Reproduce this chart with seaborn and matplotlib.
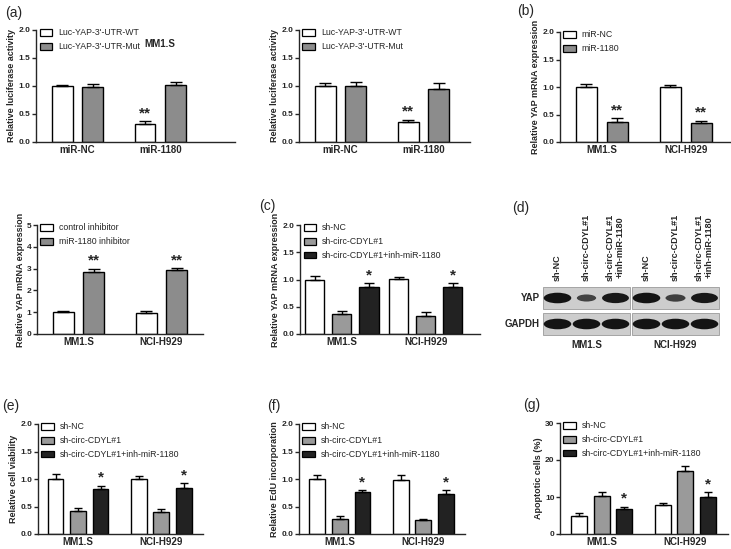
import numpy as np
import pandas as pd
import matplotlib
matplotlib.use("Agg")
import matplotlib.pyplot as plt
import seaborn as sns
from matplotlib.patches import Patch, Rectangle, Ellipse
from matplotlib.container import BarContainer

sns.set_style("ticks")
plt.rcParams['font.family'] = ['Liberation Sans', 'DejaVu Sans']

W, H = 731, 549

# ---------------- data ----------------
mir_groups = ["miR-NC", "miR-1180"]
cell_lines = ["MM1.S", "NCI-H929"]
luc_labels = ["Luc-YAP-3'-UTR-WT", "Luc-YAP-3'-UTR-Mut"]

luc1_wt = [1.00, 0.33]
luc1_wt_err = [0.02, 0.04]
luc1_mut = [0.99, 1.01]
luc1_mut_err = [0.05, 0.07]

luc2_wt = [1.00, 0.35]
luc2_wt_err = [0.06, 0.05]
luc2_mut = [1.00, 0.95]
luc2_mut_err = [0.07, 0.10]

mimic_labels = ["miR-NC", "miR-1180"]
mimic_nc = [1.00, 1.00]
mimic_nc_err = [0.05, 0.03]
mimic_mir = [0.36, 0.34]
mimic_mir_err = [0.07, 0.05]

inh_labels = ["control inhibitor", "miR-1180 inhibitor"]
inh_ctrl = [1.00, 0.97]
inh_ctrl_err = [0.05, 0.07]
inh_mir = [2.85, 2.92]
inh_mir_err = [0.15, 0.12]

sh_labels = ["sh-NC", "sh-circ-CDYL#1", "sh-circ-CDYL#1+inh-miR-1180"]

yap_nc = [1.00, 1.01]
yap_nc_err = [0.07, 0.03]
yap_sh = [0.36, 0.33]
yap_sh_err = [0.06, 0.07]
yap_combo = [0.86, 0.87]
yap_combo_err = [0.07, 0.06]

via_nc = [1.00, 1.00]
via_nc_err = [0.10, 0.05]
via_sh = [0.41, 0.40]
via_sh_err = [0.06, 0.05]
via_combo = [0.81, 0.83]
via_combo_err = [0.07, 0.10]

edu_nc = [1.00, 0.98]
edu_nc_err = [0.08, 0.10]
edu_sh = [0.28, 0.25]
edu_sh_err = [0.04, 0.03]
edu_combo = [0.76, 0.73]
edu_combo_err = [0.04, 0.07]

apo_nc = [4.9, 7.8]
apo_nc_err = [0.8, 0.6]
apo_sh = [10.3, 17.0]
apo_sh_err = [1.1, 1.4]
apo_combo = [6.8, 10.1]
apo_combo_err = [0.6, 1.3]

# western blot band intensity (relative), lanes: sh-NC, sh-circ, sh-circ+inh
blot_lanes = ["sh-NC", "sh-circ-CDYL#1", "sh-circ-CDYL#1\n+inh-miR-1180"]
yap_band = {"MM1.S": [1.0, 0.4, 0.95], "NCI-H929": [1.0, 0.45, 0.95]}
gapdh_band = {"MM1.S": [1.0, 1.0, 1.0], "NCI-H929": [1.0, 1.0, 1.0]}

two_colors = ["white", "#8c8c8c"]
three_colors = ["white", "#9a9a9a", "#222222"]


def add_ax(l, t, r, b):
    return fig.add_axes([l / W, 1 - b / H, (r - l) / W, (b - t) / H])


def bar_panel(ax, cats, labels, vals, errs, colors, width, gap, ylim, yticks,
              ylabel, xlim, stars=None, fmt="{:.1f}", capsize=3.5):
    rows = []
    for lab, v in zip(labels, vals):
        for c, y in zip(cats, v):
            rows.append({"group": c, "cond": lab, "value": y})
    df = pd.DataFrame(rows)
    sns.barplot(data=df, x="group", y="value", hue="cond", hue_order=labels,
                order=cats, palette=colors, width=width, gap=gap,
                errorbar=None, edgecolor="black", linewidth=1.0,
                legend=False, ax=ax, saturation=1)
    bars = [c for c in ax.containers if isinstance(c, BarContainer)]
    for i, cont in enumerate(bars):
        xs = [p.get_x() + p.get_width() / 2 for p in cont.patches]
        ys = vals[i]
        e = errs[i]
        ax.errorbar(xs, ys, yerr=[np.zeros(len(e)), e], fmt="none",
                    ecolor="black", elinewidth=1.0, capsize=capsize,
                    capthick=1.0, zorder=1)
        if stars and stars[i]:
            for x, y, ee in zip(xs, ys, e):
                ax.annotate(stars[i], (x, y + ee), xytext=(0, 0.5),
                            textcoords="offset points", ha="center",
                            va="bottom", fontsize=11, fontweight="bold")
    handles = [Patch(facecolor=c, edgecolor="black", linewidth=0.9)
               for c in colors]
    ax.legend(handles, labels, loc="upper left", bbox_to_anchor=(0.01, 1.03),
              frameon=False, fontsize=6.3, handlelength=1.4, handleheight=0.8,
              handletextpad=0.7, labelspacing=0.55, borderaxespad=0,
              borderpad=0.2)
    ax.set_ylim(*ylim)
    ax.set_yticks(yticks)
    ax.set_yticklabels([fmt.format(t) for t in yticks], fontsize=6,
                       fontweight="bold")
    ax.set_xlim(*xlim)
    ax.set_xticks(range(len(cats)))
    ax.set_xticklabels(cats, fontsize=7, fontweight="bold")
    ax.set_xlabel("")
    ax.set_ylabel(ylabel, fontsize=6.5, fontweight="bold", labelpad=1.5)
    ax.tick_params(axis="y", direction="out", length=3, width=1, pad=1)
    ax.tick_params(axis="x", length=0, pad=2)
    sns.despine(ax=ax)
    for s in ["left", "bottom"]:
        ax.spines[s].set_linewidth(1.0)
    return bars


fig = plt.figure(figsize=(W / 100, H / 100), dpi=100)

# (a) left
ax = add_ax(36, 30, 235, 142)
bars = bar_panel(ax, mir_groups, luc_labels, [luc1_wt, luc1_mut],
                 [luc1_wt_err, luc1_mut_err], two_colors, 0.74, 0.32, (0, 2),
                 [0, 0.5, 1.0, 1.5, 2.0], "Relative luciferase activity",
                 (-0.5, 1.9), capsize=4)
p = bars[0].patches[1]
ax.annotate("**", (p.get_x() + p.get_width() / 2, luc1_wt[1] + luc1_wt_err[1]),
            xytext=(0, 0.5), textcoords="offset points", ha="center",
            va="bottom", fontsize=11, fontweight="bold")
fig.text(160 / W, 1 - 44 / H, "MM1.S", fontsize=7, fontweight="bold",
         ha="center", va="center")

# (a) right
ax = add_ax(299, 30, 470, 142)
bars = bar_panel(ax, mir_groups, luc_labels, [luc2_wt, luc2_mut],
                 [luc2_wt_err, luc2_mut_err], two_colors, 0.74, 0.32, (0, 2),
                 [0, 0.5, 1.0, 1.5, 2.0], "Relative luciferase activity",
                 (-0.5, 1.56), capsize=4)
p = bars[0].patches[1]
ax.annotate("**", (p.get_x() + p.get_width() / 2, luc2_wt[1] + luc2_wt_err[1]),
            xytext=(0, 0.5), textcoords="offset points", ha="center",
            va="bottom", fontsize=11, fontweight="bold")

# (b)
ax = add_ax(560, 32, 730, 142)
bar_panel(ax, cell_lines, mimic_labels, [mimic_nc, mimic_mir],
          [mimic_nc_err, mimic_mir_err], two_colors, 0.74, 0.32, (0, 2),
          [0, 0.5, 1.0, 1.5, 2.0], "Relative YAP mRNA expression",
          (-0.5, 1.53), stars=["", "**"], capsize=4)

# inhibitor panel
ax = add_ax(37, 225, 203, 334)
bar_panel(ax, cell_lines, inh_labels, [inh_ctrl, inh_mir],
          [inh_ctrl_err, inh_mir_err], two_colors, 0.74, 0.32, (0, 5),
          [0, 1, 2, 3, 4, 5], "Relative YAP mRNA expression",
          (-0.5, 1.5), stars=["", "**"], fmt="{:.0f}", capsize=4)

# (c)
ax = add_ax(300, 225, 480, 334)
bar_panel(ax, cell_lines, sh_labels, [yap_nc, yap_sh, yap_combo],
          [yap_nc_err, yap_sh_err, yap_combo_err], three_colors, 0.97, 0.29,
          (0, 2), [0, 0.5, 1.0, 1.5, 2.0], "Relative YAP mRNA expression",
          (-0.5, 1.65), stars=["", "", "*"])

# (e)
ax = add_ax(38, 424, 203, 534)
bar_panel(ax, cell_lines, sh_labels, [via_nc, via_sh, via_combo],
          [via_nc_err, via_sh_err, via_combo_err], three_colors, 0.81, 0.3,
          (0, 2), [0, 0.5, 1.0, 1.5, 2.0], "Relative cell viability",
          (-0.48, 1.5), stars=["", "", "*"], capsize=3)

# (f)
ax = add_ax(299, 424, 465, 534)
bar_panel(ax, cell_lines, sh_labels, [edu_nc, edu_sh, edu_combo],
          [edu_nc_err, edu_sh_err, edu_combo_err], three_colors, 0.81, 0.3,
          (0, 2), [0, 0.5, 1.0, 1.5, 2.0], "Relative EdU incorporation",
          (-0.49, 1.5), stars=["", "", "*"], capsize=3)

# (g)
ax = add_ax(560, 423, 728, 534)
bar_panel(ax, cell_lines, sh_labels, [apo_nc, apo_sh, apo_combo],
          [apo_nc_err, apo_sh_err, apo_combo_err], three_colors, 0.81, 0.3,
          (0, 30), [0, 10, 20, 30], "Apoptotic cells (%)",
          (-0.5, 1.51), stars=["", "", "*"], fmt="{:.0f}", capsize=3)

# (d) western blot drawn in a pixel-coordinate axes
axd = fig.add_axes([0, 0, 1, 1], zorder=-1)
axd.set_xlim(0, W)
axd.set_ylim(H, 0)
axd.axis("off")
boxes = {"MM1.S": (543, 630), "NCI-H929": (632, 719)}
rows = [("YAP", 287, 309, yap_band), ("GAPDH", 313, 335, gapdh_band)]
for line, (x0, x1) in boxes.items():
    lane_w = (x1 - x0) / 3
    for name, y0, y1, bands in rows:
        axd.add_patch(Rectangle((x0, y0), x1 - x0, y1 - y0,
                                facecolor="#cdcdcd", edgecolor="#9a9a9a",
                                linewidth=0.6))
        for k, inten in enumerate(bands[line]):
            cx = x0 + lane_w * (k + 0.5)
            cy = (y0 + y1) / 2
            bw = lane_w * 0.95 * (0.5 + 0.5 * inten)
            bh = (y1 - y0) * 0.48 * (0.45 + 0.55 * inten)
            shade = 0.08 + 0.3 * (1 - inten)
            axd.add_patch(Ellipse((cx, cy), bw, bh,
                                  facecolor=str(shade), edgecolor="none"))
    axd.text((x0 + x1) / 2, 345, line, ha="center", va="center",
             fontsize=7, fontweight="bold")
    for k, lab in enumerate(blot_lanes):
        cx = x0 + lane_w * (k + 0.5)
        axd.text(cx, 281, lab, rotation=90, ha="center", va="bottom",
                 fontsize=6.5, fontweight="bold", linespacing=1.1)
axd.text(540, 298, "YAP", ha="right", va="center", fontsize=7,
         fontweight="bold")
axd.text(540, 324, "GAPDH", ha="right", va="center", fontsize=7,
         fontweight="bold")

# panel letters
for lab, x, y in [("(a)", 5, 13), ("(b)", 517, 11), ("(c)", 259, 206),
                  ("(d)", 512, 208), ("(e)", 2, 406), ("(f)", 267, 406),
                  ("(g)", 523, 405)]:
    fig.text(x / W, 1 - y / H, lab, fontsize=10, ha="left", va="center")

fig.savefig("out.png", dpi=100)
